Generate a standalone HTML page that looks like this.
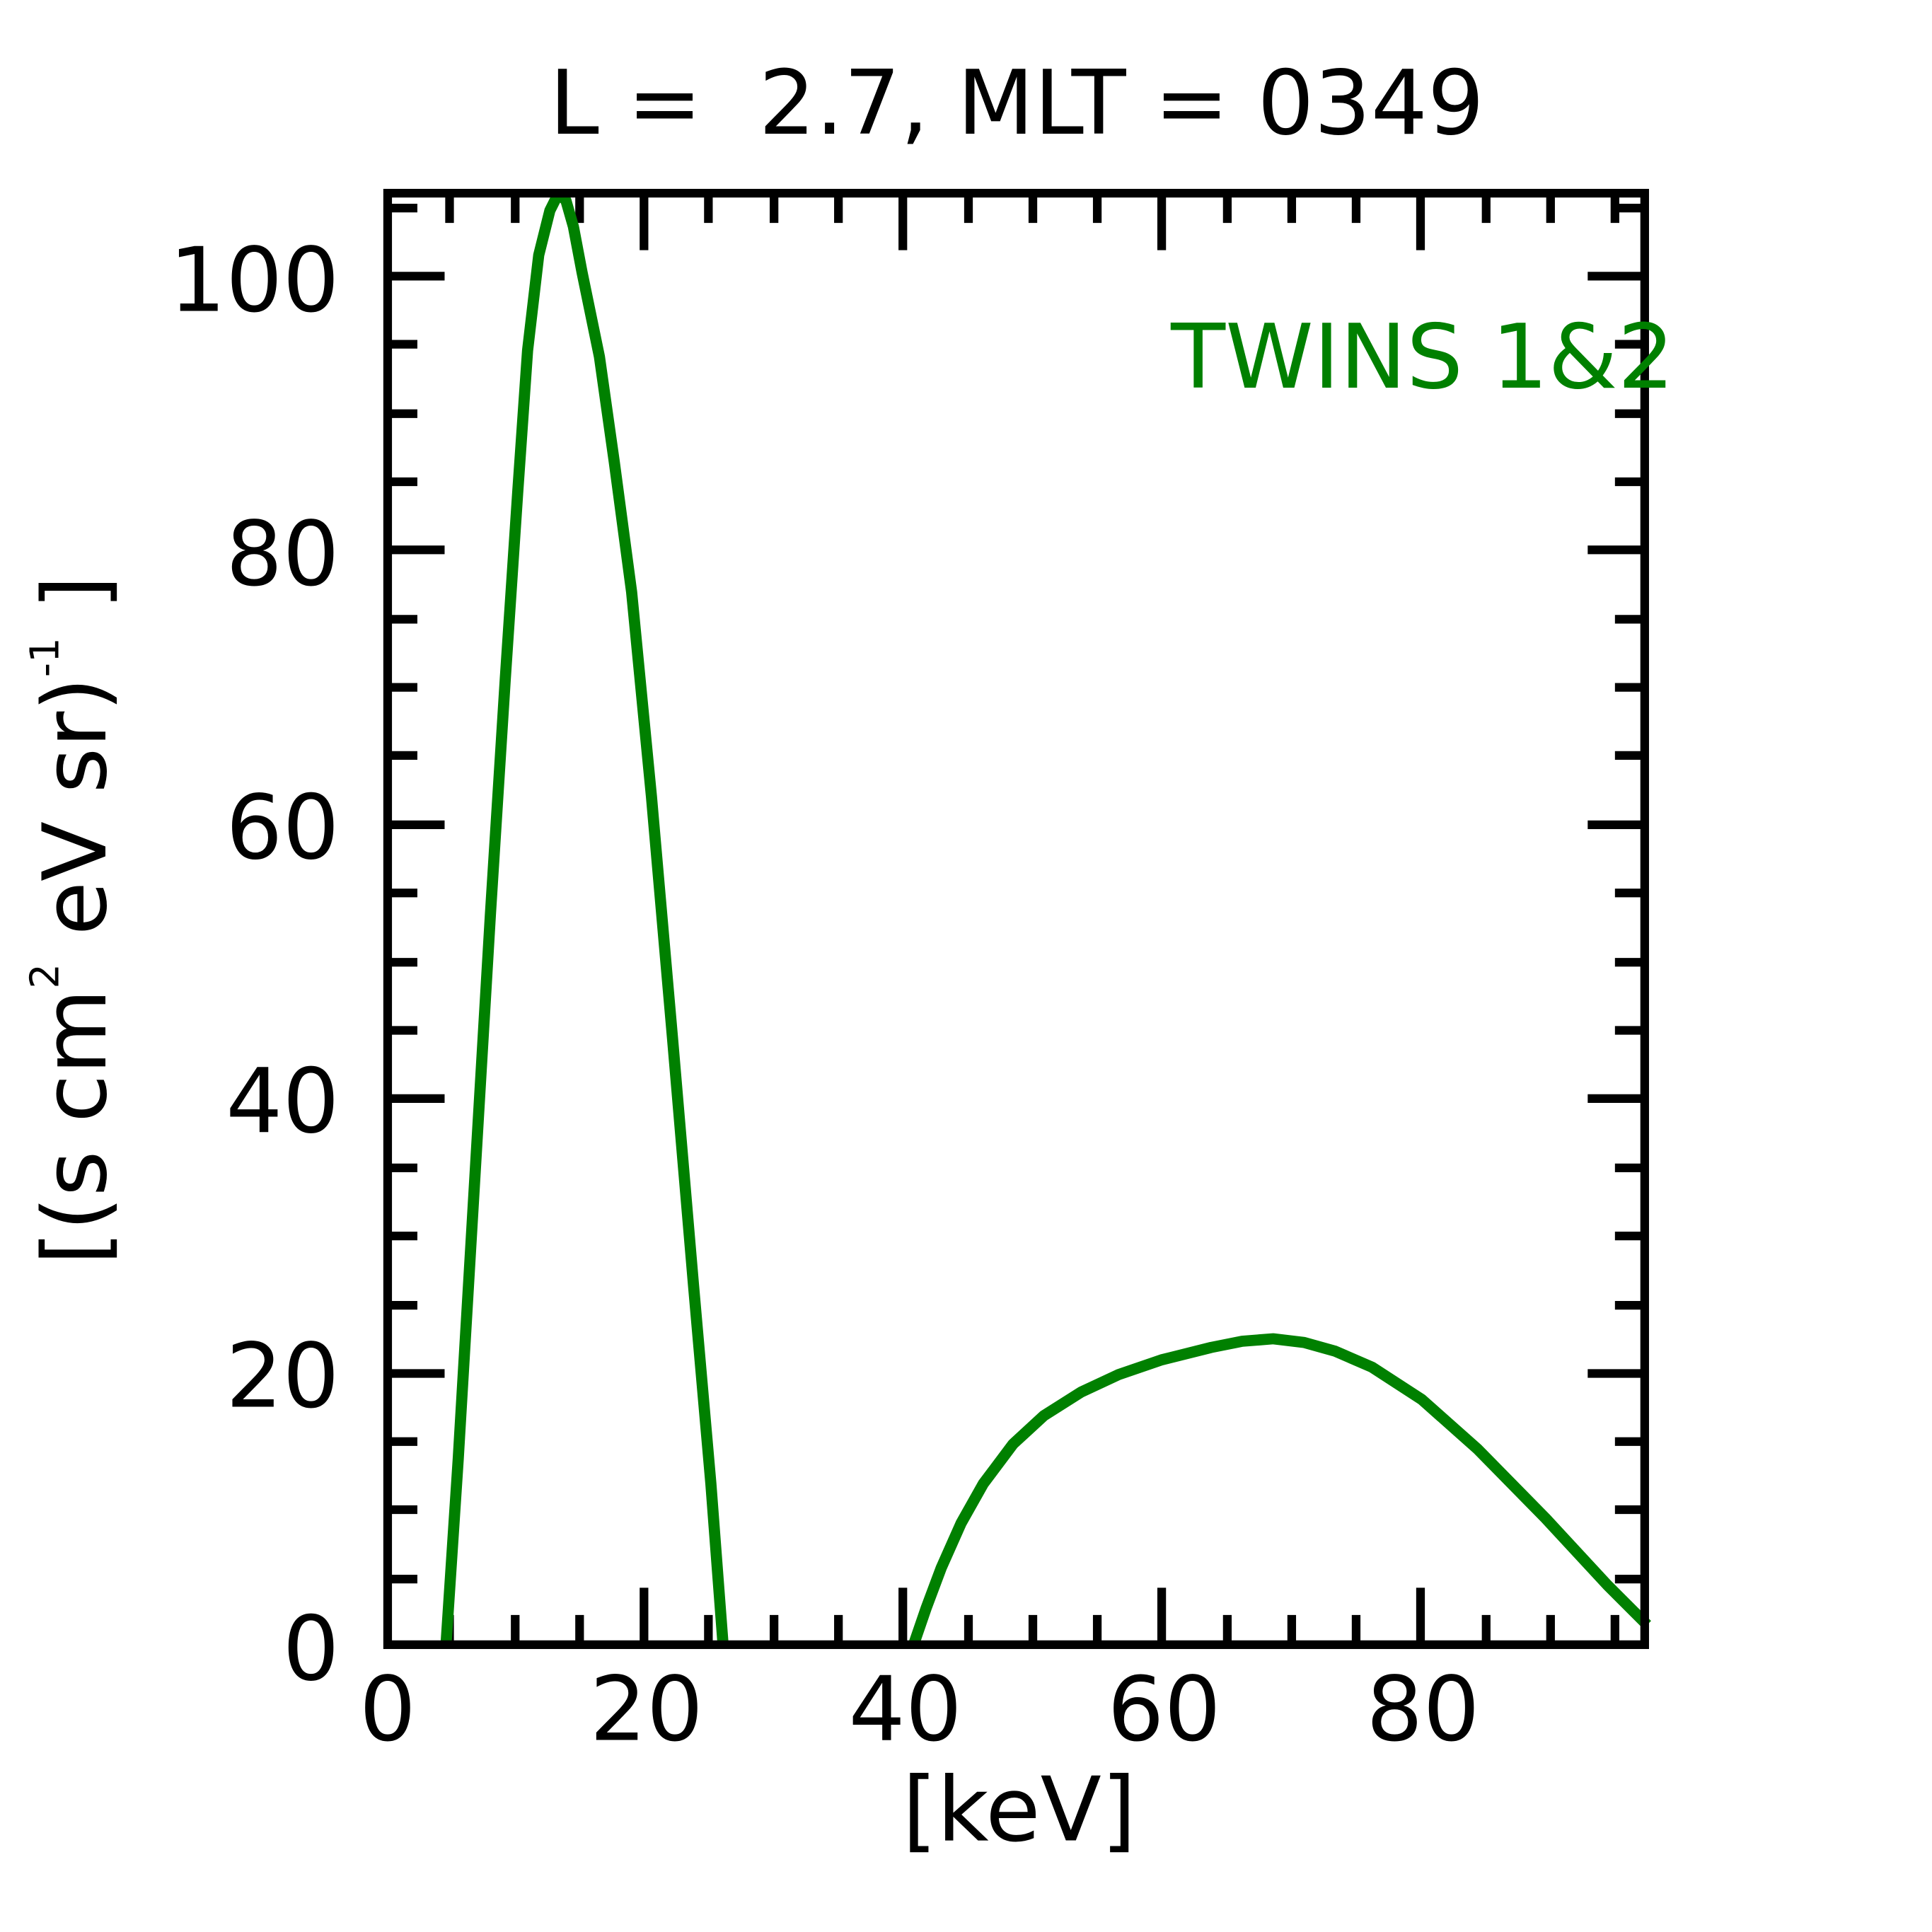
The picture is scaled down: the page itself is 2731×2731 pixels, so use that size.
<!DOCTYPE html>
<html><head><meta charset="utf-8"><style>html,body{margin:0;padding:0;background:#fff}svg{display:block}</style></head>
<body>
<svg width="2731" height="2731" viewBox="0 0 1560 1560" xmlns="http://www.w3.org/2000/svg" font-family="DejaVu Sans, Liberation Sans, sans-serif">
<rect width="1560" height="1560" fill="#fff"/>
<g transform="translate(-2,-2)">
<g stroke="#000" stroke-width="7">
<path d="M522,156v48M731,156v48M940,156v48M1149,156v48M522,1332v-48M731,1332v-48M940,1332v-48M1149,1332v-48"/>
<path d="M365,156v26M418,156v26M470,156v26M574,156v26M627,156v26M679,156v26M784,156v26M836,156v26M888,156v26M993,156v26M1045,156v26M1097,156v26M1202,156v26M1254,156v26M1306,156v26
M365,1332v-26M418,1332v-26M470,1332v-26M574,1332v-26M627,1332v-26M679,1332v-26M784,1332v-26M836,1332v-26M888,1332v-26M993,1332v-26M1045,1332v-26M1097,1332v-26M1202,1332v-26M1254,1332v-26M1306,1332v-26"/>
<path d="M313,1111h48M313,889h48M313,668h48M313,446h48M313,225h48M1332,1111h-48M1332,889h-48M1332,668h-48M1332,446h-48M1332,225h-48"/>
<path d="M313,1277h26M313,1221h26M313,1166h26M313,1056h26M313,1000h26M313,945h26M313,834h26M313,779h26M313,723h26M313,612h26M313,557h26M313,502h26M313,391h26M313,336h26M313,280h26M313,170h26
M1332,1277h-26M1332,1221h-26M1332,1166h-26M1332,1056h-26M1332,1000h-26M1332,945h-26M1332,834h-26M1332,779h-26M1332,723h-26M1332,612h-26M1332,557h-26M1332,502h-26M1332,391h-26M1332,336h-26M1332,280h-26M1332,170h-26"/>
</g>
<g fill="none" stroke="#008000" stroke-width="9" stroke-linejoin="round">
<path d="M362,1332 L372,1180 L385,960 L398,740 L410,550 L420,400 L428,285 L437,208 L446,172 L451,162 L455,160 L459,164 L465,185 L472,222 L486,290 L498,375 L512,480 L528,645 L545,840 L562,1040 L576,1200 L586,1332"/>
<path d="M739,1332 L750,1300 L762,1268 L778,1232 L796,1200 L820,1168 L845,1145 L875,1126 L905,1112 L940,1100 L980,1090 L1005,1085 L1030,1083 L1055,1086 L1080,1093 L1110,1106 L1150,1132 L1195,1172 L1250,1228 L1300,1282 L1332,1314"/>
</g>
<rect x="315" y="158" width="1015" height="1172" fill="none" stroke="#000" stroke-width="7"/>
<g font-size="72" fill="#000">
<text x="823" y="110" text-anchor="middle" xml:space="preserve">L =  2.7, MLT = 0349</text>
<g text-anchor="middle">
<text x="315" y="1407">0</text><text x="524" y="1407">20</text><text x="733" y="1407">40</text><text x="942" y="1407">60</text><text x="1151" y="1407">80</text>
</g>
<g text-anchor="end">
<text x="276" y="1358">0</text><text x="276" y="1138">20</text><text x="276" y="916">40</text><text x="276" y="695">60</text><text x="276" y="474">80</text><text x="276" y="253">100</text>
</g>
<text x="825" y="1488" text-anchor="middle">[keV]</text>
<text transform="translate(87,745) rotate(-90)" text-anchor="middle" font-size="71">[(s cm<tspan font-size="32" dy="-38">2</tspan><tspan dy="38"> eV sr)</tspan><tspan font-size="32" dy="-38">-1</tspan><tspan dy="38"> ]</tspan></text>
</g>
<text x="1354" y="315" font-size="72" fill="#008000" text-anchor="end">TWINS 1&amp;2</text>
</g>
</svg>
</body></html>
